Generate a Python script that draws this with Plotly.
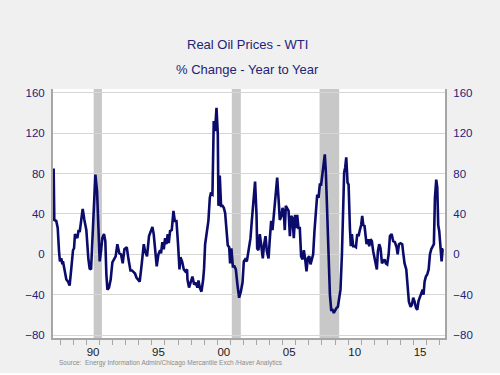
import plotly.graph_objects as go

# ---- data (decimal year, % change y/y) ----
dates = [
    1987.49, 1987.54, 1987.69, 1987.80, 1987.90, 1987.97, 1988.08, 1988.15, 1988.20, 1988.33,
    1988.46, 1988.59, 1988.71, 1988.84, 1988.97, 1989.05, 1989.12, 1989.22, 1989.30, 1989.40,
    1989.48, 1989.61, 1989.71, 1989.84, 1989.99, 1990.14, 1990.24, 1990.35, 1990.45, 1990.55,
    1990.68, 1990.81, 1990.91, 1991.01, 1991.11, 1991.21, 1991.34, 1991.44, 1991.52, 1991.60,
    1991.72, 1991.85, 1991.98, 1992.11, 1992.23, 1992.36, 1992.51, 1992.64, 1992.77, 1992.90,
    1993.08, 1993.20, 1993.36, 1993.48, 1993.61, 1993.71, 1993.82, 1993.97, 1994.07, 1994.22,
    1994.38, 1994.48, 1994.63, 1994.78, 1994.91, 1995.04, 1995.14, 1995.27, 1995.37, 1995.50,
    1995.63, 1995.70, 1995.80, 1995.91, 1996.01, 1996.11, 1996.21, 1996.29, 1996.39, 1996.52,
    1996.65, 1996.75, 1996.88, 1997.00, 1997.11, 1997.18, 1997.31, 1997.44, 1997.56, 1997.69,
    1997.72, 1997.84, 1997.97, 1998.10, 1998.23, 1998.35, 1998.48, 1998.56, 1998.66, 1998.79,
    1998.92, 1998.99, 1999.07, 1999.20, 1999.32, 1999.43, 1999.50, 1999.63, 1999.73, 1999.83,
    1999.94, 2000.04, 2000.09, 2000.19, 2000.29, 2000.40, 2000.50, 2000.60, 2000.70, 2000.80,
    2000.91, 2000.98, 2001.08, 2001.19, 2001.31, 2001.42, 2001.54, 2001.67, 2001.80, 2001.93,
    2002.03, 2002.13, 2002.26, 2002.38, 2002.54, 2002.64, 2002.77, 2002.89, 2003.00, 2003.05,
    2003.15, 2003.25, 2003.35, 2003.48, 2003.58, 2003.69, 2003.79, 2003.92, 2004.02, 2004.12,
    2004.22, 2004.32, 2004.45, 2004.58, 2004.68, 2004.78, 2004.91, 2004.99, 2005.09, 2005.16,
    2005.24, 2005.34, 2005.45, 2005.55, 2005.65, 2005.75, 2005.85, 2005.95, 2006.03, 2006.11,
    2006.21, 2006.31, 2006.41, 2006.52, 2006.62, 2006.72, 2006.82, 2006.92, 2007.03, 2007.13,
    2007.23, 2007.33, 2007.43, 2007.54, 2007.64, 2007.74, 2007.84, 2007.94, 2008.05, 2008.15,
    2008.22, 2008.30, 2008.40, 2008.51, 2008.61, 2008.71, 2008.81, 2008.91, 2009.02, 2009.12,
    2009.22, 2009.32, 2009.42, 2009.53, 2009.63, 2009.70, 2009.78, 2009.86, 2009.96, 2010.04,
    2010.14, 2010.21, 2010.29, 2010.39, 2010.49, 2010.60, 2010.70, 2010.80, 2010.90, 2011.00,
    2011.08, 2011.16, 2011.26, 2011.34, 2011.41, 2011.51, 2011.62, 2011.72, 2011.82, 2011.92,
    2012.03, 2012.13, 2012.20, 2012.28, 2012.38, 2012.48, 2012.59, 2012.69, 2012.79, 2012.89,
    2012.99, 2013.10, 2013.20, 2013.33, 2013.45, 2013.58, 2013.71, 2013.79, 2013.89, 2014.01,
    2014.14, 2014.22, 2014.32, 2014.45, 2014.55, 2014.65, 2014.78, 2014.88, 2014.98, 2015.09,
    2015.19, 2015.29, 2015.39, 2015.49, 2015.60, 2015.70, 2015.77, 2015.85, 2015.95, 2016.05,
    2016.16, 2016.26, 2016.36, 2016.46, 2016.56, 2016.64, 2016.74, 2016.82, 2016.89, 2016.97,
    2017.07, 2017.15, 2017.23, 2017.28,
]
values = [
    85, 34, 33, 26, 3, -7, -4, -10, -7, -17,
    -25, -27, -31, -14, 4, 6, 20, 18, 16, 24,
    22, 35, 45, 34, 24, -4, -14, -15, 10, 49,
    79, 62, 29, -7, 3, 16, 20, 13, -20, -35,
    -33, -25, -8, -4, -2, 10, 1, 0, -9, 5,
    7, -4, -16, -16, -18, -19, -23, -25, -27, -10,
    10, 3, -2, 18, 23, 27, 20, 0, -12, 0,
    4, 1, 12, 5, 16, 10, 20, 11, 23, 24,
    43, 33, 33, 10, -15, -3, -7, -15, -17, -15,
    -25, -33, -28, -22, -30, -28, -33, -26, -33, -37,
    -25, -14, 10, 20, 33, 56, 60, 59, 132, 122,
    145, 119, 48, 78, 48, 48, 46, 41, 26, 9,
    7, -9, 6, -12, -12, -15, -30, -43, -37, -28,
    -7, -5, -7, 3, 16, 33, 59, 72, 39, 6,
    4, 20, 10, -4, 10, 18, 3, -4, 16, 33,
    24, 39, 53, 76, 56, 34, 38, 46, 41, 24,
    48, 46, 43, 18, 38, 36, 16, 39, 26, 39,
    26, 26, -2, -5, 4, -5, -17, -4, -2, -10,
    -5, 0, 23, 46, 59, 56, 69, 69, 82, 97,
    99, 82, 39, -7, -40, -55, -55, -58, -55, -53,
    -52, -45, -35, 0, 49, 81, 86, 96, 71, 69,
    26, 8, 20, 8, 8, 7, 20, 18, 24, 29,
    38, 29, 28, 16, 10, 15, 8, 15, 13, 3,
    -4, -10, -15, 3, 10, 6, -9, -7, -5, -9,
    -10, 0, 18, 20, 13, 12, 7, 0, 10, 11,
    10, 1, -9, -15, -32, -47, -52, -50, -43, -47,
    -53, -55, -46, -43, -38, -35, -40, -27, -22, -20,
    -15, 0, 5, 8, 10, 56, 74, 66, 29, 23,
    8, -7, 5, 5,
]

recession_start = [1990.55, 2001.11, 2007.82]
recession_end = [1991.18, 2001.80, 2009.32]

year_tick_vals = [1990.5, 1995.5, 2000.5, 2005.5, 2010.5, 2015.5]
year_tick_text = ["90", "95", "00", "05", "10", "15"]
y_ticks = [-80, -40, 0, 40, 80, 120, 160]

title_text = "Real Oil Prices - WTI"
subtitle_text = "% Change - Year to Year"
source_text = "Source:  Energy Information Admin/Chicago Mercantile Exch /Haver Analytics"

NAVY = "#0b0b6b"
LABEL = "#23237a"
AXIS = "#a6a6a6"
FONT = "Liberation Sans, Arial, sans-serif"

fig = go.Figure()
fig.add_trace(go.Scatter(x=dates, y=values, mode="lines",
                         line=dict(color=NAVY, width=2.6), hoverinfo="skip",
                         showlegend=False))
fig.add_trace(go.Scatter(x=dates[:1], y=values[:1], mode="markers",
                         marker=dict(opacity=0), yaxis="y2", hoverinfo="skip",
                         showlegend=False))

for s, e in zip(recession_start, recession_end):
    fig.add_shape(type="rect", xref="x", yref="paper", x0=s, x1=e, y0=0, y1=1,
                  fillcolor="#c8c8c8", line=dict(width=0), layer="below")

# thin white strip along the bottom edge of the picture
fig.add_shape(type="rect", xref="paper", yref="paper", x0=-0.2, x1=1.2,
              y0=-0.16, y1=-0.141, fillcolor="#ffffff", line=dict(width=0), layer="below")

yr = [-82.9, 163.7]
yaxis_common = dict(range=yr, tickvals=y_ticks, showgrid=True, gridcolor="#d6d6d6",
                    gridwidth=1, zeroline=False, showline=True, linecolor=AXIS,
                    linewidth=2, ticks="outside", ticklen=4, tickcolor="rgba(0,0,0,0)",
                    tickfont=dict(family=FONT, size=11.5, color=LABEL), fixedrange=True)

fig.update_layout(
    width=500, height=375,
    margin=dict(l=53, r=55, t=89, b=37),
    paper_bgcolor="#f0f0f0", plot_bgcolor="#ffffff",
    xaxis=dict(range=[1987.44, 2017.41], tickvals=year_tick_vals, ticktext=year_tick_text,
               ticks="", showgrid=False, zeroline=False, showline=True, linecolor=AXIS,
               linewidth=2, ticklabelstandoff=2, fixedrange=True,
               tickfont=dict(family=FONT, size=11.5, color="#1a1a1a"),
               minor=dict(tick0=1987, dtick=1, ticks="outside", ticklen=5,
                          tickcolor=AXIS, tickwidth=1, showgrid=False)),
    yaxis=dict(side="left", **yaxis_common),
    yaxis2=dict(side="right", overlaying="y", **yaxis_common),
    annotations=[
        dict(text=title_text, xref="paper", yref="paper", x=0.497, y=1.179,
             xanchor="center", yanchor="middle", showarrow=False,
             font=dict(family=FONT, size=13, color=LABEL)),
        dict(text=subtitle_text, xref="paper", yref="paper", x=0.497, y=1.079,
             xanchor="center", yanchor="middle", showarrow=False,
             font=dict(family=FONT, size=13, color=LABEL)),
        dict(text=source_text, xref="paper", yref="paper", x=0.0094, y=-0.1,
             xanchor="left", yanchor="middle", showarrow=False,
             font=dict(family=FONT, size=6.5, color="#8a8a8a")),
    ],
)

fig.write_html("out.html", config={"displayModeBar": False},
               post_script="document.body.style.margin='0';")
